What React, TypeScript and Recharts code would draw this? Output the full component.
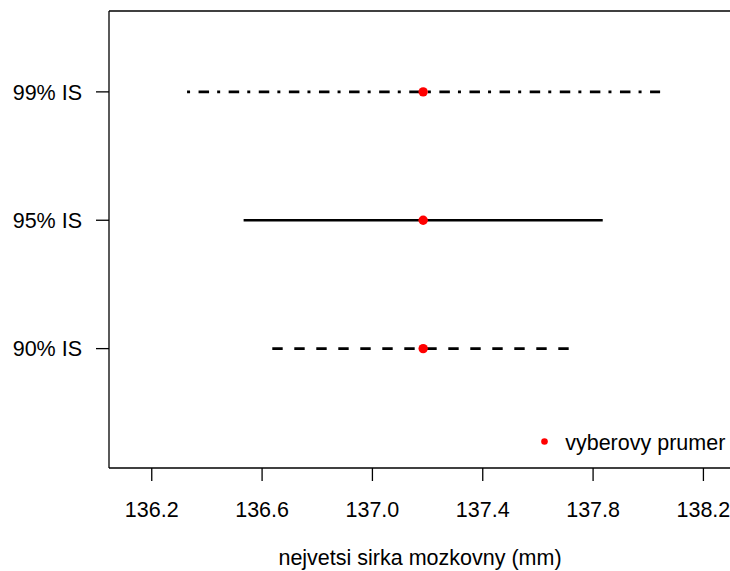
import React from 'react';
import { ComposedChart, Line, Scatter, XAxis, YAxis, Legend } from 'recharts';

const levels = ['90% IS', '95% IS', '99% IS'];
const levelPos = [1, 2, 3];
const means = [137.184, 137.184, 137.184];
const lower = [136.637, 136.533, 136.328];
const upper = [137.731, 137.835, 138.043];
const xTicks = [136.2, 136.6, 137.0, 137.4, 137.8, 138.2];
const xDomain = [136.045, 138.3];
const yDomain = [0.07, 3.63];
const xTitle = 'nejvetsi sirka mozkovny (mm)';
const legendLabel = 'vyberovy prumer';

const lineDash: (string | undefined)[] = ['10.4 11.6', undefined, '3 8.5 10.5 8.1'];
const FONT = '"Liberation Sans", Arial, sans-serif';
const FS = 21.5;
const tickStyle = { fill: '#000', fontSize: FS, fontFamily: FONT };
const axisStroke = { stroke: '#000', strokeWidth: 1.3 };

const meanData = levels.map((_, i) => ({ x: means[i], y: levelPos[i] }));

const LegendBox = () => (
  <div style={{ position: 'relative', width: 200, height: 24, fontFamily: FONT, fontSize: FS, lineHeight: '24px', color: '#000' }}>
    <svg width={14} height={24} style={{ position: 'absolute', left: 0, top: 0 }}>
      <circle cx={6.5} cy={10.5} r={3.3} fill="#ff0000" />
    </svg>
    <span style={{ position: 'absolute', left: 27.2, top: 0, whiteSpace: 'nowrap' }}>{legendLabel}</span>
  </div>
);

export default function App() {
  return (
    <div style={{ position: 'absolute', left: 0, top: 0, width: 730, height: 571, overflow: 'hidden', background: '#fff' }}>
      <ComposedChart
        width={760}
        height={571}
        margin={{ top: 10, right: 28, left: 0, bottom: 0 }}
        style={{ fontFamily: FONT }}
      >
        <XAxis
          xAxisId="b"
          type="number"
          dataKey="x"
          domain={xDomain}
          allowDataOverflow
          ticks={xTicks}
          interval={0}
          tickFormatter={(v: number) => v.toFixed(1)}
          height={103}
          tickSize={13}
          tickMargin={20.5}
          tick={tickStyle}
          tickLine={axisStroke}
          axisLine={axisStroke}
          label={{ value: xTitle, position: 'insideBottom', offset: 6, fill: '#000', fontSize: FS, fontFamily: FONT }}
        />
        <XAxis
          xAxisId="t"
          orientation="top"
          type="number"
          dataKey="x"
          domain={xDomain}
          allowDataOverflow
          height={1}
          tick={false}
          tickLine={false}
          axisLine={axisStroke}
        />
        <YAxis
          yAxisId="l"
          type="number"
          dataKey="y"
          domain={yDomain}
          allowDataOverflow
          ticks={levelPos}
          interval={0}
          tickFormatter={(v: number) => levels[levelPos.indexOf(v)]}
          width={109}
          tickSize={13}
          tickMargin={14}
          tick={tickStyle}
          tickLine={axisStroke}
          axisLine={axisStroke}
        />
        <YAxis
          yAxisId="r"
          orientation="right"
          type="number"
          dataKey="y"
          domain={yDomain}
          allowDataOverflow
          width={1}
          tick={false}
          tickLine={false}
          axisLine={axisStroke}
        />
        {levels.map((lab, i) => (
          <Line
            key={lab}
            xAxisId="b"
            yAxisId="l"
            data={[
              { x: lower[i], y: levelPos[i] },
              { x: upper[i], y: levelPos[i] },
            ]}
            dataKey="y"
            type="linear"
            stroke="#000"
            strokeWidth={2.7}
            strokeDasharray={lineDash[i]}
            strokeLinecap="butt"
            dot={false}
            activeDot={false}
            legendType="none"
            isAnimationActive={false}
          />
        ))}
        <Scatter
          xAxisId="b"
          yAxisId="l"
          data={meanData}
          dataKey="y"
          fill="#ff0000"
          isAnimationActive={false}
          shape={(p: any) => <circle cx={p.cx} cy={p.cy} r={4.7} fill="#ff0000" />}
        />
        <Legend
          layout="horizontal"
          verticalAlign="middle"
          align="center"
          wrapperStyle={{ left: 538, top: 430.5, width: 200, height: 24 }}
          content={() => <LegendBox />}
        />
      </ComposedChart>
    </div>
  );
}
